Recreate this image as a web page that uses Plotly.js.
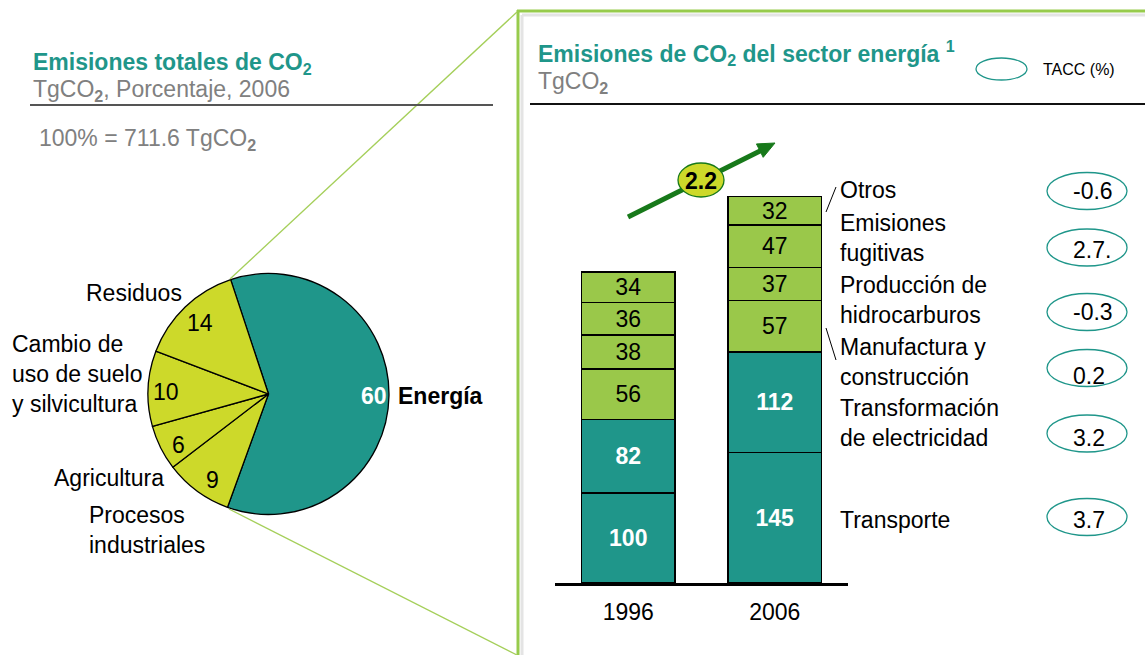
<!DOCTYPE html>
<html>
<head>
<meta charset="utf-8">
<script src="https://cdn.plot.ly/plotly-3.0.1.min.js"></script>
<style>html,body{margin:0;padding:0;background:#fff;}#chart{width:1145px;height:655px;}</style>
</head>
<body>
<div id="chart"></div>
<script>
// ---------- data ----------
const pieLabels = ['Energía', 'Procesos industriales', 'Agricultura', 'Cambio de uso de suelo y silvicultura', 'Residuos'];
const pieValues = [60, 9, 6, 10, 14];
const years = ['1996', '2006'];
const sectors = ['Transporte', 'Transformación de electricidad', 'Manufactura y construcción', 'Producción de hidrocarburos', 'Emisiones fugitivas', 'Otros'];
const v1996 = [100, 82, 56, 38, 36, 34];
const v2006 = [145, 112, 57, 37, 47, 32];
const totals = [347, 430];
const tacc = ['3.7', '3.2', '0.2', '-0.3', '2.7.', '-0.6'];
const growth = '2.2';
const totalEmissions = '711.6';

// ---------- styling helpers ----------
const W = 1145, H = 655;
const X = x => x / W;
const Y = y => 1 - y / H;
const FONT = 'Liberation Sans, Arial, Helvetica, sans-serif';
const FS = 23;
const TEAL = '#1f968a';
const PIEYEL = '#cdd92a';
const BARGREEN = '#9ac84a';
const GRAY = '#808080';
const PANEL = '#97cb4c';
const ARROW = '#17791a';

const traces = [];
// pie
traces.push({
  type: 'pie',
  labels: pieLabels,
  values: pieValues,
  sort: false,
  direction: 'clockwise',
  rotation: -18.3,
  marker: {colors: [TEAL, PIEYEL, PIEYEL, PIEYEL, PIEYEL], line: {color: '#000', width: 1.3}},
  textinfo: 'none',
  hoverinfo: 'skip',
  showlegend: false,
  domain: {x: [X(148), X(389)], y: [Y(514.5), Y(273.5)]}
});
// stacked bars
sectors.forEach((s, i) => {
  const dark = i < 2;
  traces.push({
    type: 'bar',
    name: s,
    x: years,
    y: [v1996[i], v2006[i]],
    text: [String(v1996[i]), String(v2006[i])],
    textposition: 'inside',
    insidetextanchor: 'middle',
    textangle: 0,
    constraintext: 'none',
    textfont: {family: FONT, size: FS, color: dark ? '#fff' : '#000', weight: dark ? 'bold' : 'normal'},
    marker: {color: dark ? TEAL : BARGREEN, line: {color: '#000', width: 1.5}},
    hoverinfo: 'skip',
    showlegend: false
  });
});

const ann = [];
function txt(x, y, text, opts) {
  ann.push(Object.assign({xref: 'paper', yref: 'paper', x: X(x), y: Y(y), text: text, showarrow: false,
    xanchor: 'left', yanchor: 'middle', align: 'left',
    font: {family: FONT, size: FS, color: '#000'}}, opts || {}));
}
// left titles
txt(31, 64, '<b>Emisiones totales de CO<sub>2</sub></b>', {font: {family: FONT, size: FS, color: TEAL}});
txt(31, 91, 'TgCO<sub><b>2</b></sub>, Porcentaje, 2006', {font: {family: FONT, size: FS, color: GRAY}});
txt(37, 139, '100% = ' + totalEmissions + ' TgCO<sub><b>2</b></sub>', {font: {family: FONT, size: FS, color: GRAY}});
// right titles
txt(536, 53, '<b>Emisiones de CO<sub>2</sub> del sector energía <sup>1</sup></b>', {font: {family: FONT, size: FS, color: TEAL}});
txt(536, 82, 'TgCO<sub><b>2</b></sub>', {font: {family: FONT, size: FS, color: GRAY}});
txt(1041, 70, 'TACC (%)', {font: {family: FONT, size: 16, color: '#000'}});

// pie labels
const pieLabelText = ['<b>Energía</b>', 'Procesos<br>industriales', 'Agricultura', 'Cambio de<br>uso de suelo<br>y silvicultura', 'Residuos'];
const pieLabelPos = [[396, 396], [87, 530], [52, 478], [10, 374], [84, 293]];
pieLabelText.forEach((t, i) => txt(pieLabelPos[i][0], pieLabelPos[i][1], t));
// pie values
const pieValPos = [[374, 396], [212, 480], [178, 445], [166, 392], [200, 323]];
pieValues.forEach((v, i) => txt(pieValPos[i][0], pieValPos[i][1], i === 0 ? '<b>' + v + '</b>' : String(v),
  {xanchor: 'center', align: 'center', font: {family: FONT, size: FS, color: i === 0 ? '#fff' : '#000'}}));

// totals above bars
years.forEach((yr, i) => ann.push({xref: 'x', yref: 'y', x: yr, y: totals[i], text: String(totals[i]),
  showarrow: false, yanchor: 'bottom', yshift: 0, font: {family: FONT, size: FS, color: '#000'}}));

// sector labels
const sectorText = ['Transporte', 'Transformación<br>de electricidad', 'Manufactura y<br>construcción', 'Producción de<br>hidrocarburos', 'Emisiones<br>fugitivas', 'Otros'];
const sectorY = [520, 423, 362, 300, 238, 190];
sectorText.forEach((t, i) => txt(838, sectorY[i], t));
// TACC values
const taccEllY = [517, 433.5, 368, 312, 247.5, 191];
const taccTxtY = [520, 438, 376, 312, 250, 191.5];
tacc.forEach((t, i) => txt(1071, taccTxtY[i], t));
// growth
txt(701, 181, '<b>' + growth + '</b>', {xanchor: 'center', align: 'center'});

// ---------- shapes ----------
const shapes = [];
function line(x0, y0, x1, y1, color, width) {
  shapes.push({type: 'line', xref: 'paper', yref: 'paper', x0: X(x0), y0: Y(y0), x1: X(x1), y1: Y(y1),
    line: {color: color, width: width}});
}
function ell(cx, cy, w, h, fill, color, width) {
  shapes.push({type: 'circle', xref: 'paper', yref: 'paper', x0: X(cx - w / 2), x1: X(cx + w / 2),
    y0: Y(cy + h / 2), y1: Y(cy - h / 2), fillcolor: fill, line: {color: color, width: width}});
}
// panel
line(522, 15, 1145, 15, '#e4e4e4', 3);
line(522, 15, 522, 655, '#e4e4e4', 3);
line(517, 11, 1145, 11, PANEL, 3);
line(518, 10, 518, 655, PANEL, 3);
// connectors from pie
line(230, 279, 517, 12, '#a5cf5a', 1.3);
line(229, 509, 517, 655, '#a5cf5a', 1.3);
// title rules
line(30, 105, 493, 105, '#555', 2);
line(530, 104, 1145, 104, '#111', 2);
// legend ellipse
ell(1001.5, 69, 51, 22, 'rgba(0,0,0,0)', TEAL, 1.3);
// TACC ellipses
taccEllY.forEach(y => ell(1087, y, 80, 37, 'rgba(0,0,0,0)', TEAL, 1.3));
// bracket ticks
line(826, 212, 836, 187, '#000', 1);
line(826, 328, 836, 360, '#000', 1);
// growth arrow
line(628, 217, 762, 150, ARROW, 5);
(function () {
  const tip = [775, 143];
  const ux = 0.893, uy = -0.450, L = 17, hw = 7.5;
  const bx = tip[0] - L * ux, by = tip[1] - L * uy;
  const p1 = [bx + hw * 0.450, by + hw * 0.893];
  const p2 = [bx - hw * 0.450, by - hw * 0.893];
  shapes.push({type: 'path', xref: 'paper', yref: 'paper',
    path: `M ${X(tip[0])} ${Y(tip[1])} L ${X(p1[0])} ${Y(p1[1])} L ${X(p2[0])} ${Y(p2[1])} Z`,
    fillcolor: ARROW, line: {color: ARROW, width: 1}});
})();
ell(701, 180, 46, 34, PIEYEL, ARROW, 1.3);

const layout = {
  width: W, height: H,
  margin: {l: 0, r: 0, t: 0, b: 0},
  paper_bgcolor: '#fff', plot_bgcolor: 'rgba(0,0,0,0)',
  barmode: 'stack',
  bargap: 0.365,
  font: {family: FONT, size: FS, color: '#000'},
  xaxis: {type: 'category', domain: [X(555), X(848)], range: [-0.5, 1.5], showline: true, linecolor: '#000',
    linewidth: 3, ticks: '', showgrid: false, zeroline: false, tickfont: {family: FONT, size: FS, color: '#000'},
    ticklabelstandoff: 6, fixedrange: true},
  yaxis: {domain: [Y(583), Y(583 - 480 * 0.8991)], range: [0, 480], visible: false, showgrid: false,
    zeroline: false, fixedrange: true},
  shapes: shapes,
  annotations: ann,
  showlegend: false
};

Plotly.newPlot('chart', traces, layout, {staticPlot: true, displayModeBar: false});
</script>
</body>
</html>
